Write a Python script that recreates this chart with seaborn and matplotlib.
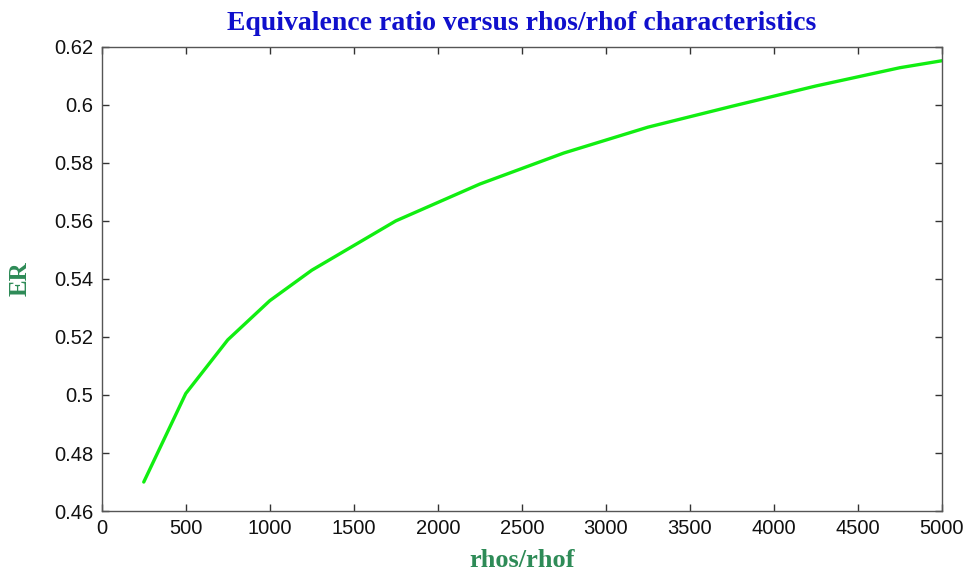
import matplotlib
matplotlib.use('Agg')
import matplotlib.pyplot as plt
import seaborn as sns
import pandas as pd

# values
rhos_rhof = [250, 500, 750, 1000, 1250, 1750, 2250, 2750, 3250, 3750, 4250, 4750, 5000]
er_values = [0.470, 0.5005, 0.519, 0.5325, 0.5430, 0.5600, 0.5727, 0.5834, 0.5923,
             0.5995, 0.6065, 0.6128, 0.6152]
x_ticks = [0, 500, 1000, 1500, 2000, 2500, 3000, 3500, 4000, 4500, 5000]
y_ticks = [0.46, 0.48, 0.5, 0.52, 0.54, 0.56, 0.58, 0.6, 0.62]
y_tick_labels = ['0.46', '0.48', '0.5', '0.52', '0.54', '0.56', '0.58', '0.6', '0.62']

df = pd.DataFrame({'rhos/rhof': rhos_rhof, 'ER': er_values})

sns.set_theme(style='white')
plt.rcParams['font.family'] = ['Liberation Sans', 'DejaVu Sans']
plt.rcParams['xtick.direction'] = 'in'
plt.rcParams['ytick.direction'] = 'in'

fig = plt.figure(figsize=(9.69, 5.71), dpi=100)
ax = fig.add_axes([0.105, 0.105, 0.867, 0.813])

sns.lineplot(data=df, x='rhos/rhof', y='ER', ax=ax, color='#11ee11', linewidth=2.4)

ax.set_xlim(0, 5000)
ax.set_ylim(0.46, 0.62)
ax.set_xticks(x_ticks)
ax.set_xticklabels([str(t) for t in x_ticks])
ax.set_yticks(y_ticks)
ax.set_yticklabels(y_tick_labels)
ax.tick_params(axis='both', which='both', direction='in', length=5, width=1,
               color='#333333', labelsize=14.5, labelcolor='#111111',
               top=True, right=True, bottom=True, left=True, pad=6)
for spine in ax.spines.values():
    spine.set_color('#555555')
    spine.set_linewidth(1.0)

serif = ['Liberation Serif', 'DejaVu Serif']
ax.set_title('Equivalence ratio versus rhos/rhof characteristics', family=serif,
             fontsize=20, fontweight='bold', color='#1010cc', pad=12)
ax.set_xlabel('rhos/rhof', family=serif, fontsize=19, fontweight='bold',
              color='#2e8b57', labelpad=8)
ax.set_ylabel('ER', family=serif, fontsize=18, fontweight='bold',
              color='#2e8b57', labelpad=16)

fig.savefig('out.png', dpi=100)
plt.close(fig)
